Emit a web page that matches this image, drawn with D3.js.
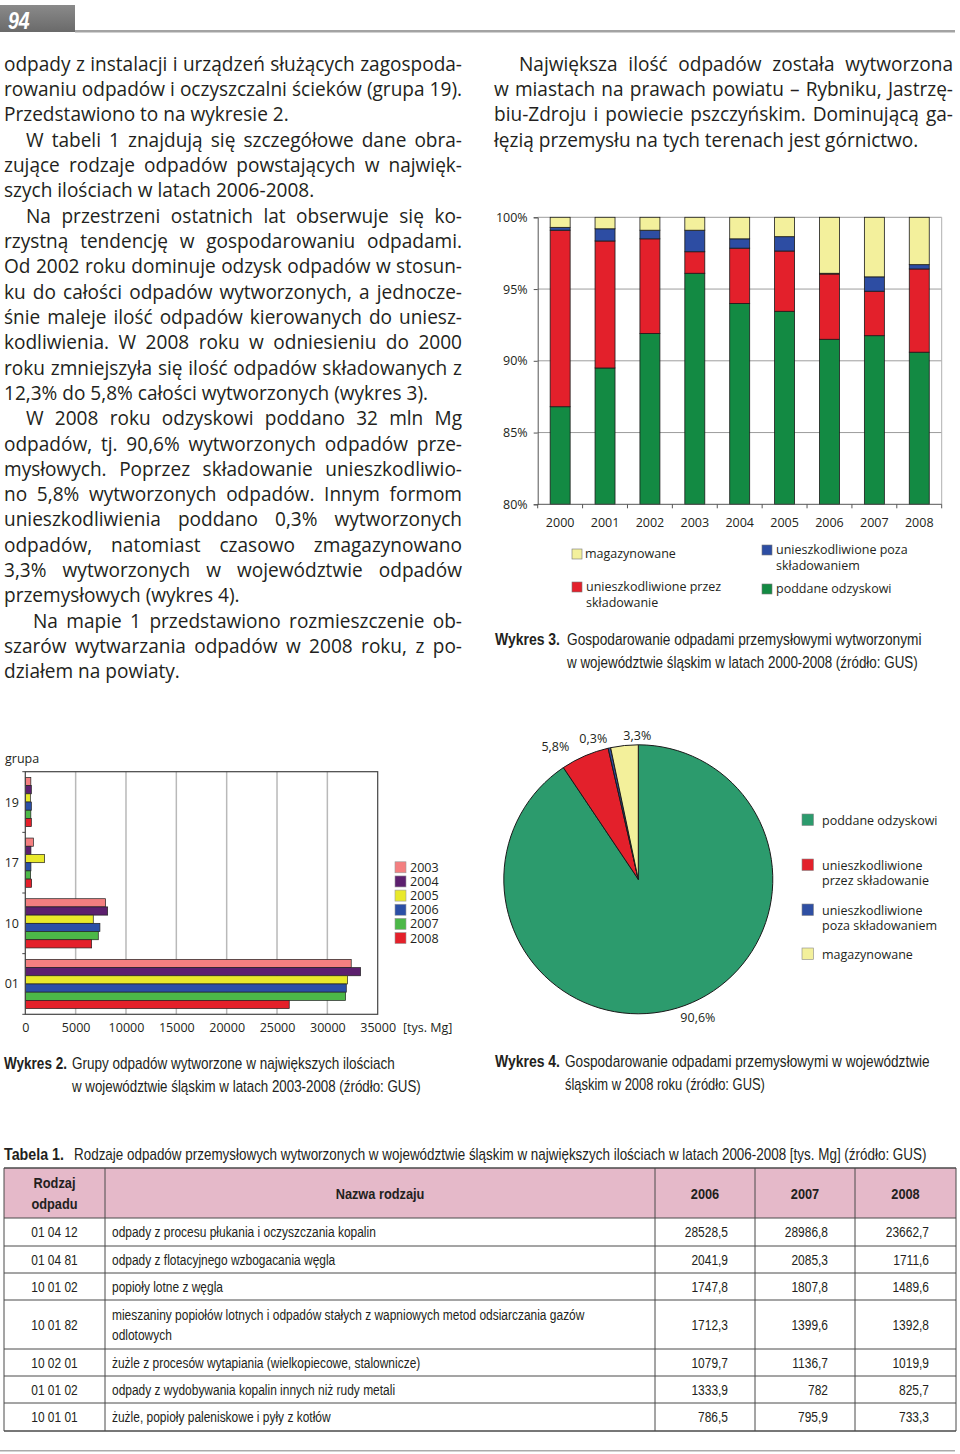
<!DOCTYPE html>
<html><head><meta charset="utf-8">
<script src="https://cdn.jsdelivr.net/npm/d3@7"></script>
<style>html,body{margin:0;padding:0;background:#fff;} svg{display:block;}</style>
</head><body>
<svg id="page" width="960" height="1454"></svg>
<script>
// ---------------- DATA ----------------
// Wykres 3 (stacked 100% bars)
const years3 = ["2000","2001","2002","2003","2004","2005","2006","2007","2008"];
const odzysk      = [86.8, 89.5, 91.9, 96.1, 94.0, 93.45, 91.5, 91.75, 90.6];
const skladowanie = [12.3, 8.85, 6.6, 1.5, 3.85, 4.2, 4.55, 3.1, 5.8];
const pozaSklad   = [0.2, 0.85, 0.6, 1.5, 0.65, 1.0, 0.05, 1.0, 0.3];
const magazyn     = [0.7, 0.8, 0.9, 0.9, 1.5, 1.35, 3.9, 4.15, 3.3];
const yTicks3 = [80, 85, 90, 95, 100];

// Wykres 2 (grouped horizontal bars) [tys. Mg]
const groups2 = ["19","17","10","01"];
const years2 = ["2003","2004","2005","2006","2007","2008"];
const grp19 = [550, 600, 500, 600, 550, 600];
const grp17 = [800, 560, 1920, 560, 530, 630];
const grp10 = [7980, 8180, 6750, 7410, 7250, 6590];
const grp01 = [32370, 33300, 32010, 31880, 31810, 26215];
const xTicks2 = [0, 5000, 10000, 15000, 20000, 25000, 30000, 35000];

// Wykres 4 (pie, 2008)
const pieKeys = ["poddane odzyskowi","unieszkodliwione przez składowanie","unieszkodliwione poza składowaniem","magazynowane"];
const pieValues = [90.6, 5.8, 0.3, 3.3];
const pieText = ["90,6%","5,8%","0,3%","3,3%"];

// Tabela 1
const tabHead = ["Rodzaj\nodpadu","Nazwa rodzaju","2006","2007","2008"];
const tabCodes = ["01 04 12","01 04 81","10 01 02","10 01 82","10 02 01","01 01 02","10 01 01"];
const tabNames = [
 "odpady z procesu płukania i oczyszczania kopalin",
 "odpady z flotacyjnego wzbogacania węgla",
 "popioły lotne z węgla",
 "mieszaniny popiołów lotnych i odpadów stałych z wapniowych metod odsiarczania gazów\nodlotowych",
 "żużle z procesów wytapiania (wielkopiecowe, stalownicze)",
 "odpady z wydobywania kopalin innych niż rudy metali",
 "żużle, popioły paleniskowe i pyły z kotłów"];
const tab2006 = ["28528,5","2041,9","1747,8","1712,3","1079,7","1333,9","786,5"];
const tab2007 = ["28986,8","2085,3","1807,8","1399,6","1136,7","782","795,9"];
const tab2008 = ["23662,7","1711,6","1489,6","1392,8","1019,9","825,7","733,3"];

// Body text
const leftLines = [
 "odpady z instalacji i urządzeń służących zagospoda-",
 "rowaniu odpadów i oczyszczalni ścieków (grupa 19).",
 "Przedstawiono to na wykresie 2.",
 "W tabeli 1 znajdują się szczegółowe dane obra-",
 "zujące rodzaje odpadów powstających w najwięk-",
 "szych ilościach w latach 2006-2008.",
 "Na przestrzeni ostatnich lat obserwuje się ko-",
 "rzystną tendencję w gospodarowaniu odpadami.",
 "Od 2002 roku dominuje odzysk odpadów w stosun-",
 "ku do całości odpadów wytworzonych, a jednocze-",
 "śnie maleje ilość odpadów kierowanych do uniesz-",
 "kodliwienia. W 2008 roku w odniesieniu do 2000",
 "roku zmniejszyła się ilość odpadów składowanych z",
 "12,3% do 5,8% całości wytworzonych (wykres 3).",
 "W 2008 roku odzyskowi poddano 32 mln Mg",
 "odpadów, tj. 90,6% wytworzonych odpadów prze-",
 "mysłowych. Poprzez składowanie unieszkodliwio-",
 "no 5,8% wytworzonych odpadów. Innym formom",
 "unieszkodliwienia poddano 0,3% wytworzonych",
 "odpadów, natomiast czasowo zmagazynowano",
 "3,3% wytworzonych w województwie odpadów",
 "przemysłowych (wykres 4).",
 "Na mapie 1 przedstawiono rozmieszczenie ob-",
 "szarów wytwarzania odpadów w 2008 roku, z po-",
 "działem na powiaty."];
const leftIndent = {3:22, 6:22, 14:22, 22:29};
const leftRagged = [2,5,13,21,24];
const rightLines = [
 "Największa ilość odpadów została wytworzona",
 "w miastach na prawach powiatu – Rybniku, Jastrzę-",
 "biu-Zdroju i powiecie pszczyńskim. Dominującą ga-",
 "łęzią przemysłu na tych terenach jest górnictwo."];
const rightIndent = {0:25};
const rightRagged = [3];

// ---------------- DRAWING ----------------
const svg = d3.select("#page");
const INK = "#231f20";
const BODY = "'Open Sans','Noto Sans',sans-serif";
const COND = "'Liberation Sans',Arial,sans-serif";

// header
const hg = svg.append("defs").append("linearGradient").attr("id","hdr").attr("x1",0).attr("x2",0).attr("y1",0).attr("y2",1);
hg.append("stop").attr("offset",0).attr("stop-color","#8a8a8a");
hg.append("stop").attr("offset",1).attr("stop-color","#6a6a6a");
svg.append("rect").attr("x",0).attr("y",5).attr("width",75).attr("height",27).attr("fill","url(#hdr)");
svg.append("rect").attr("x",75).attr("y",30).attr("width",880).attr("height",2.5).attr("fill","#a3a3a3");
svg.append("text").attr("transform","translate(8,28.5) scale(0.85,1)")
  .attr("font-family",COND).attr("font-weight","bold").attr("font-style","italic")
  .attr("font-size",23).attr("fill","#fff").text("94");

// body text
const LINE0 = 70.7, LH = 25.32;
function measure(str, fs, fam, weight) {
  const t = svg.append("text").attr("font-family",fam||BODY).attr("font-size",fs)
    .attr("font-weight",weight||"normal").text(str);
  const w = t.node().getComputedTextLength(); t.remove(); return w;
}
let fsBody = 30;
function calib(lines, x0, x1, indent, ragged) {
  lines.forEach((s,i) => {
    if (ragged.includes(i)) return;
    const target = x1 - x0 - (indent[i]||0);
    const w = measure(s, 19);
    fsBody = Math.min(fsBody, 19*target/w);
  });
}
calib(leftLines, 4, 462, leftIndent, leftRagged);
calib(rightLines, 494, 953, rightIndent, rightRagged);
fsBody = Math.min(fsBody, 19.5);

function drawBlock(lines, x0, x1, indent, ragged) {
  lines.forEach((s,i) => {
    const x = x0 + (indent[i]||0);
    const t = svg.append("text").attr("x",x).attr("y",LINE0 + i*LH)
      .attr("font-family",BODY).attr("font-size",fsBody).attr("fill",INK).text(s);
    if (!ragged.includes(i)) {
      const w = t.node().getComputedTextLength();
      const n = (s.match(/ /g)||[]).length;
      if (n > 0) t.attr("word-spacing", (x1 - x - w)/n);
    }
  });
}
drawBlock(leftLines, 4, 462, leftIndent, leftRagged);
drawBlock(rightLines, 494, 953, rightIndent, rightRagged);

// condensed fitted text (horizontal scale to reach a width)
function fitText(str, x, y, width, size, weight) {
  const w = measure(str, size, COND, weight);
  const k = width / w;
  svg.append("text").attr("transform",`translate(${x},${y}) scale(${k},1)`)
    .attr("font-family",COND).attr("font-size",size).attr("font-weight",weight||"normal")
    .attr("fill",INK).text(str);
}
function caption(x, y, bold, boldW, restX, lines, widths, lineX2) {
  fitText(bold, x, y, boldW, 16, "bold");
  lines.forEach((s,i) => fitText(s, i===0 ? restX : lineX2, y + i*22.5, widths[i], 16, "normal"));
}

// ---------- Wykres 3 ----------
const C3 = {left:537.7, right:941.7, top:217.3, bottom:504.3};
const col3 = {odzysk:"#138a43", skladowanie:"#e3202b", poza:"#2d4da3", magazyn:"#f3f09c"};
const rows3 = years3.map((y,i) => ({year:y, odzysk:odzysk[i], skladowanie:skladowanie[i], poza:pozaSklad[i], magazyn:magazyn[i]}));
const keys3 = ["odzysk","skladowanie","poza","magazyn"];
const x3 = d3.scaleBand().domain(years3).range([C3.left, C3.right]).paddingInner(0.555).paddingOuter(0.2775);
const y3 = d3.scaleLinear().domain([80,100]).range([C3.bottom, C3.top]).clamp(true);
const g3 = svg.append("g");
g3.selectAll(".grid").data(yTicks3.slice(1)).join("line")
  .attr("x1",C3.left).attr("x2",C3.right).attr("y1",d=>y3(d)).attr("y2",d=>y3(d))
  .attr("stroke","#9d9d9d").attr("stroke-width",1);
g3.append("line").attr("x1",C3.right).attr("x2",C3.right).attr("y1",C3.top).attr("y2",C3.bottom).attr("stroke","#b0b0b0");
const stack3 = d3.stack().keys(keys3)(rows3);
g3.selectAll(".ser").data(stack3).join("g").attr("fill",d=>col3[d.key])
  .selectAll("rect").data(d=>d).join("rect")
  .attr("x",d=>x3(d.data.year)).attr("width",x3.bandwidth())
  .attr("y",d=>y3(d[1])).attr("height",d=>y3(d[0])-y3(d[1]))
  .attr("stroke","#1a1a1a").attr("stroke-width",0.8);
const ax3 = g3.append("g").attr("transform",`translate(${C3.left},0)`)
  .call(d3.axisLeft(y3).tickValues(yTicks3).tickFormat(d=>d+"%").tickSize(4).tickPadding(6));
ax3.select(".domain").attr("stroke","#555");
ax3.selectAll(".tick line").attr("stroke","#555");
ax3.selectAll("text").attr("font-family",BODY).attr("font-size",12.5).attr("fill",INK);
g3.append("line").attr("x1",C3.left).attr("x2",C3.right).attr("y1",C3.bottom).attr("y2",C3.bottom).attr("stroke","#555");
g3.selectAll(".xt").data(d3.range(years3.length+1)).join("line")
  .attr("x1",i=>C3.left + i*x3.step()).attr("x2",i=>C3.left + i*x3.step())
  .attr("y1",C3.bottom).attr("y2",C3.bottom+4).attr("stroke","#555");
g3.selectAll(".xl").data(years3).join("text")
  .attr("x",d=>x3(d)+x3.bandwidth()/2).attr("y",527).attr("text-anchor","middle")
  .attr("font-family",BODY).attr("font-size",12.5).attr("fill",INK).text(d=>d);
const leg3 = [
  {k:"magazyn", x:572, y:549, tx:585, lines:["magazynowane"], ty:557.5},
  {k:"poza", x:762, y:545, tx:776, lines:["unieszkodliwione poza","składowaniem"], ty:554},
  {k:"skladowanie", x:572, y:582, tx:586, lines:["unieszkodliwione przez","składowanie"], ty:591},
  {k:"odzysk", x:762, y:584, tx:776, lines:["poddane odzyskowi"], ty:593}];
leg3.forEach(L => {
  g3.append("rect").attr("x",L.x).attr("y",L.y).attr("width",10).attr("height",10)
    .attr("fill",col3[L.k]).attr("stroke","#777").attr("stroke-width",0.6);
  L.lines.forEach((s,i)=> g3.append("text").attr("x",L.tx).attr("y",L.ty+i*15.5)
    .attr("font-family",BODY).attr("font-size",12.5).attr("fill",INK).text(s));
});
caption(495, 645, "Wykres 3.", 65, 567,
  ["Gospodarowanie odpadami przemysłowymi wytworzonymi","w województwie śląskim w latach 2000-2008 (źródło: GUS)"], [355,351], 567);

// ---------- Wykres 2 ----------
const C2 = {left:25.3, right:377.7, top:771.7, bottom:1014.3};
const col2 = ["#f47f80","#5c1f6e","#e9e92b","#2b4fa6","#4cb848","#e4202a"];
const vals2 = {"19":grp19, "17":grp17, "10":grp10, "01":grp01};
const x2 = d3.scaleLinear().domain([0,35000]).range([C2.left, C2.right]);
const yG = d3.scaleBand().domain(groups2).range([C2.top, C2.bottom]);
const yY = d3.scaleBand().domain(years2).range([5.7, yG.bandwidth()-5.7]);
const g2 = svg.append("g");
g2.selectAll(".vg").data(xTicks2.slice(1,-1)).join("line")
  .attr("x1",d=>x2(d)).attr("x2",d=>x2(d)).attr("y1",C2.top).attr("y2",C2.bottom)
  .attr("stroke","#b9b9b9").attr("stroke-width",1.5);
groups2.forEach(gk => {
  g2.append("g").selectAll("rect").data(vals2[gk]).join("rect")
    .attr("x",x2(0)).attr("y",(d,i)=>yG(gk)+yY(years2[i]))
    .attr("width",d=>x2(d)-x2(0)).attr("height",yY.bandwidth())
    .attr("fill",(d,i)=>col2[i]).attr("stroke","#222").attr("stroke-width",0.7);
});
g2.append("rect").attr("x",C2.left).attr("y",C2.top).attr("width",C2.right-C2.left).attr("height",C2.bottom-C2.top)
  .attr("fill","none").attr("stroke","#444").attr("stroke-width",1.2);
g2.selectAll(".yt").data(d3.range(groups2.length+1)).join("line")
  .attr("x1",C2.left-3).attr("x2",C2.left).attr("y1",i=>C2.top+i*yG.step()).attr("y2",i=>C2.top+i*yG.step())
  .attr("stroke","#444");
g2.selectAll(".yl").data(groups2).join("text")
  .attr("x",19).attr("y",d=>yG(d)+yG.bandwidth()/2+4.5).attr("text-anchor","end")
  .attr("font-family",BODY).attr("font-size",12.5).attr("fill",INK).text(d=>d);
const ax2 = g2.append("g").attr("transform",`translate(0,${C2.bottom})`)
  .call(d3.axisBottom(x2).tickValues(xTicks2).tickSize(0).tickPadding(8.5).tickFormat(d3.format("d")));
ax2.select(".domain").remove();
ax2.selectAll("text").attr("font-family",BODY).attr("font-size",12.5).attr("fill",INK);
g2.append("text").attr("x",403).attr("y",1031.5).attr("font-family",BODY).attr("font-size",12.5).attr("fill",INK).text("[tys. Mg]");
g2.append("text").attr("x",5).attr("y",762.5).attr("font-family",BODY).attr("font-size",12.5).attr("fill",INK).text("grupa");
years2.forEach((y,i) => {
  const cy = 867.3 + i*14.15;
  g2.append("rect").attr("x",395).attr("y",cy-5.5).attr("width",11).attr("height",11)
    .attr("fill",col2[i]).attr("stroke","#999").attr("stroke-width",0.6);
  g2.append("text").attr("x",410).attr("y",cy+4.5).attr("font-family",BODY).attr("font-size",12.5).attr("fill",INK).text(y);
});
caption(4, 1069, "Wykres 2.", 63, 72,
  ["Grupy odpadów wytworzone w największych ilościach","w województwie śląskim w latach 2003-2008 (źródło: GUS)"], [323,349], 72);

// ---------- Wykres 4 ----------
const P = {cx:638.3, cy:879.3, r:134.5};
const col4 = ["#2c9b6d","#e3202b","#2f4fa3","#f3f09b"];
const pie = d3.pie().sort(null).value(d=>d)(pieValues);
const arc = d3.arc().innerRadius(0).outerRadius(P.r);
const g4 = svg.append("g").attr("transform",`translate(${P.cx},${P.cy})`);
g4.selectAll("path").data(pie).join("path").attr("d",arc)
  .attr("fill",(d,i)=>col4[i]).attr("stroke","#1a1a1a").attr("stroke-width",1);
const plab = g4.selectAll(".pl").data(pie).join("text")
  .each(function(d,i){
    const a = (d.startAngle+d.endAngle)/2, R = P.r + 10;
    const s = Math.sin(a);
    d3.select(this).attr("x", R*s).attr("y", -R*Math.cos(a)).attr("dy","0.35em")
      .attr("text-anchor", s < -0.15 ? "end" : "start");
  })
  .attr("font-family",BODY).attr("font-size",12.5).attr("fill",INK).text((d,i)=>pieText[i]);
// resolve overlaps among the labels above the centre (push leftwards)
{
  const top = plab.nodes().filter(n => +n.getAttribute("y") < 0)
    .map(n => ({n, b:n.getBBox()})).sort((a,b)=> b.b.x - a.b.x);
  for (let i=1;i<top.length;i++){
    const prevLeft = top[i-1].b.x, cur = top[i];
    const over = cur.b.x + cur.b.width - (prevLeft - 10);
    if (over > 0) {
      cur.n.setAttribute("x", +cur.n.getAttribute("x") - over);
      cur.b = cur.n.getBBox();
    }
  }
}
const leg4 = [["poddane odzyskowi"],["unieszkodliwione","przez składowanie"],["unieszkodliwione","poza składowaniem"],["magazynowane"]];
const leg4y = [820, 865, 910, 954];
leg4.forEach((L,i) => {
  svg.append("rect").attr("x",802).attr("y",leg4y[i]-6).attr("width",11.5).attr("height",11.5)
    .attr("fill",col4[i]).attr("stroke","#888").attr("stroke-width",0.6);
  L.forEach((s,j)=> svg.append("text").attr("x",822).attr("y",leg4y[i]+4.5+j*15)
    .attr("font-family",BODY).attr("font-size",12.5).attr("fill",INK).text(s));
});
caption(495, 1067, "Wykres 4.", 65, 565,
  ["Gospodarowanie odpadami przemysłowymi w województwie","śląskim w 2008 roku (źródło: GUS)"], [365,200], 565);

// ---------- Tabela 1 ----------
caption(4, 1160, "Tabela 1.", 60, 74,
  ["Rodzaje odpadów przemysłowych wytworzonych w województwie śląskim w największych ilościach w latach 2006-2008 [tys. Mg] (źródło: GUS)"], [853], 74);
const colX = [4, 105, 655, 755, 855, 956];
const rowY = [1168, 1218, 1246, 1273, 1300, 1349, 1376, 1403, 1431];
const TFS = 14.5;
const K = 264 / measure(tabNames[0], TFS, COND);
const gt = svg.append("g");
gt.append("rect").attr("x",colX[0]).attr("y",rowY[0]).attr("width",colX[5]-colX[0]).attr("height",rowY[1]-rowY[0]).attr("fill","#e5b9c9");
function ctext(str, x, y, anchor, bold, size) {
  gt.append("text").attr("transform",`translate(${x},${y}) scale(${K},1)`)
    .attr("font-family",COND).attr("font-size",size||TFS).attr("font-weight",bold?"bold":"normal")
    .attr("text-anchor",anchor).attr("fill",INK).text(str);
}
tabHead.forEach((h,c) => {
  const cx = (colX[c]+colX[c+1])/2, cy = (rowY[0]+rowY[1])/2;
  const parts = h.split("\n");
  parts.forEach((p,j) => ctext(p, cx, cy + 5.5 + (j - (parts.length-1)/2)*21, "middle", true, 15.5));
});
tabCodes.forEach((code,r) => {
  const y0 = rowY[r+1], y1 = rowY[r+2], cy = (y0+y1)/2;
  ctext(code, (colX[0]+colX[1])/2, cy+5, "middle", false);
  const parts = tabNames[r].split("\n");
  parts.forEach((p,j) => ctext(p, colX[1]+7, cy + 5 + (j - (parts.length-1)/2)*20, "start", false));
  [tab2006, tab2007, tab2008].forEach((arr,c) => ctext(arr[r], colX[c+3]-27, cy+5, "end", false));
});
gt.selectAll(".hl").data(rowY).join("line").attr("x1",colX[0]).attr("x2",colX[5])
  .attr("y1",d=>d).attr("y2",d=>d).attr("stroke","#4a4a4a").attr("stroke-width",(d,i)=> (i===0||i===rowY.length-1)?1.3:1);
gt.selectAll(".vl").data(colX).join("line").attr("y1",rowY[0]).attr("y2",rowY[rowY.length-1])
  .attr("x1",d=>d).attr("x2",d=>d).attr("stroke","#4a4a4a").attr("stroke-width",1);
svg.append("rect").attr("x",0).attr("y",1450).attr("width",955).attr("height",1.5).attr("fill","#aaa");
</script>
</body></html>
